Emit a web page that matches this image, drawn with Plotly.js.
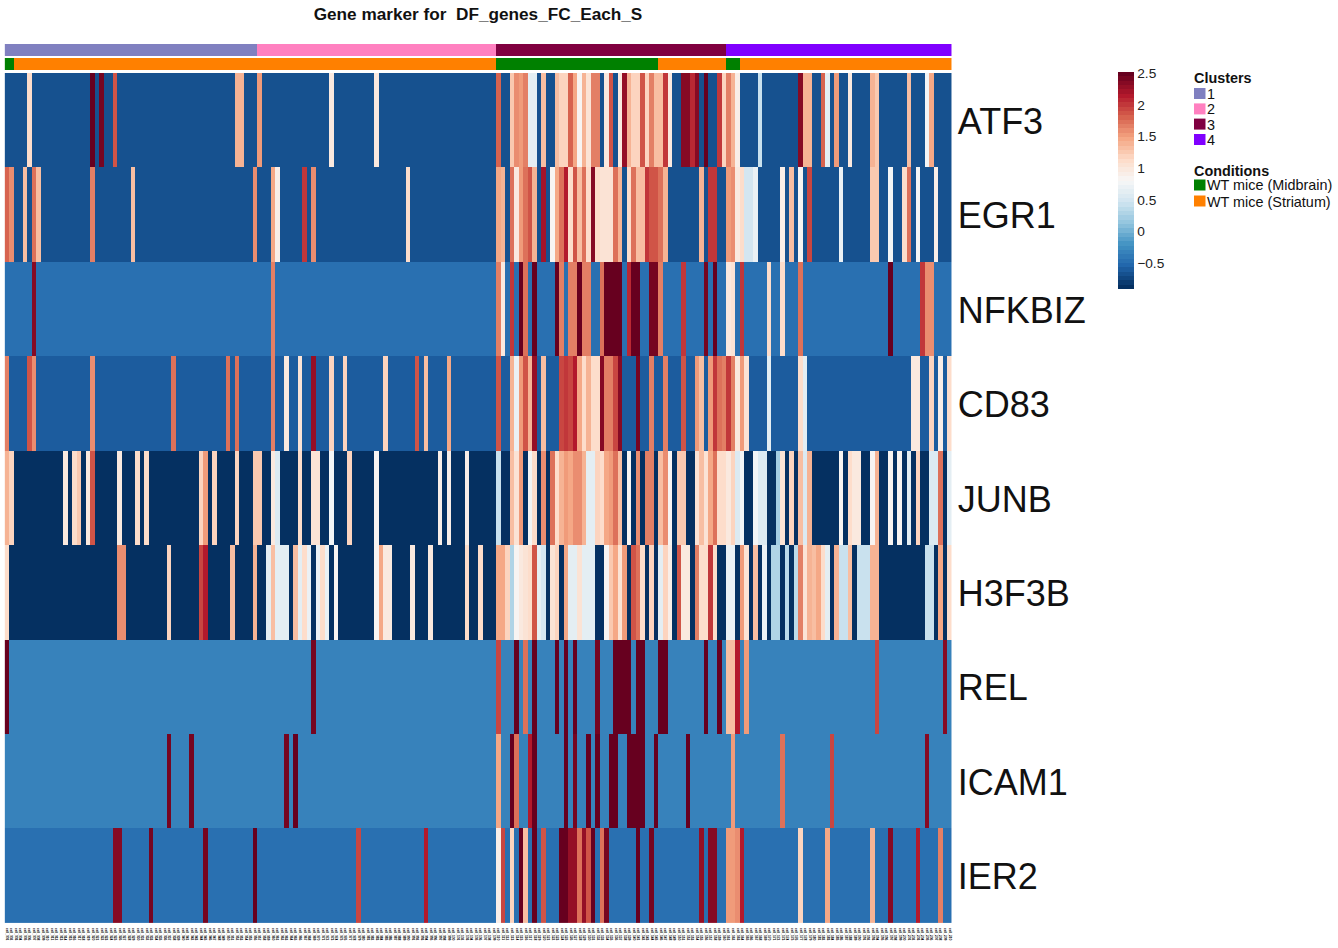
<!DOCTYPE html>
<html>
<head>
<meta charset="utf-8">
<script src="https://cdn.plot.ly/plotly-3.0.1.min.js"></script>
<style>html,body{margin:0;padding:0;background:#fff}#chart{width:1338px;height:948px}</style>
</head>
<body>
<div id="chart"></div>
<script>
const genes = ["ATF3","EGR1","NFKBIZ","CD83","JUNB","H3F3B","REL","ICAM1","IER2"];
const columnCount = 210;
const clusterLabels = ["1","2","3","4"];
const clusterColors = ["#8080C0","#FF80C0","#800040","#8000FF"];
const clusterRuns = [56,53,51,50];
const conditionLabels = ["WT mice (Midbrain)","WT mice (Striatum)"];
const conditionColors = ["#008000","#FF8000"];
const conditionRuns = [[0,2],[1,107],[0,36],[1,15],[0,3],[1,47]];
const colorTicks = [-0.5,0,0.5,1,1.5,2,2.5];
const baseLevels = {ATF3:-0.68,EGR1:-0.68,NFKBIZ:-0.45,CD83:-0.6,JUNB:-0.91,H3F3B:-0.91,REL:-0.33,ICAM1:-0.33,IER2:-0.45};

const ATF3 = {5:1.12,19:2.52,21:2.42,24:1.88,51:1.42,52:1.42,56:1.55,72:.95,82:.95,109:1.83,112:1.28,113:1.6,114:1.5,115:1.65,116:.65,117:.65,119:1.3,122:1.3,123:1.15,124:1.15,125:1.83,126:1.45,127:.85,128:1.4,129:1.05,130:1.65,131:1.65,133:1,134:1.85,136:1,137:2.28,138:1.42,139:1.2,140:1.2,141:1.85,142:1.2,143:1.65,144:1.32,145:1.32,146:2,147:.95,150:2.35,151:2.35,152:2.1,153:2.35,155:2.52,158:2,159:1.2,160:1.65,161:1.4,162:.92,167:.45,176:2.35,177:1.42,178:1.42,181:1.78,182:.65,184:1.5,187:1,192:1.38,193:1.22,200:1.3,204:.8,205:1.45};
const EGR1 = {0:1.8,1:1.58,4:1.3,6:1.7,7:1.35,19:1.68,28:1.3,55:1.57,59:1.45,60:.9,66:2,68:1.57,89:1.1,109:1.45,110:1.42,112:1.75,113:.95,114:1.55,115:1.7,116:1.85,117:1.4,119:2.2,121:.85,122:1.45,123:1.7,124:2.15,125:1.1,126:1.85,127:1.3,128:1.7,129:1.1,130:2.35,131:1.1,132:1.02,133:1.02,134:1.02,135:1.7,136:1.4,138:1.1,139:1.7,140:1.3,141:1.32,142:2,143:1.85,144:1.85,145:1.75,146:1.4,154:1.4,156:2,157:2,160:1.5,161:1.58,162:.95,163:1.1,164:.5,165:.5,166:.72,172:.9,174:1.35,176:.82,178:1.95,185:.72,192:1.28,193:1.28,196:.78,199:1.1,200:1.7,202:.78,206:.88};
const NFKBIZ = {6:2.38,59:1.65,109:1.65,110:.98,112:2,114:2.5,115:1.75,117:2.5,122:2.5,123:1.65,125:1.65,126:1.65,127:2.5,128:1.68,129:1.68,132:1.75,133:2.52,134:2.52,135:2.52,136:2.52,138:2.1,139:2.52,140:2.52,143:2.42,144:2.42,145:1.65,150:2,155:2.42,157:2.5,160:.98,161:1.02,163:2,169:1.1,172:1.1,176:1.75,196:2.5,203:2,204:1.58,205:1.58};
const CD83 = {0:1.68,5:1.85,6:1.58,19:1.58,37:1.75,49:1.75,51:1.75,59:1.68,62:1,65:1.03,68:2.25,72:1.15,75:1.2,84:1.2,91:1.85,93:1.33,98:1.43,109:1.85,112:1.38,113:.72,114:1.5,115:1.9,116:1.4,117:2.25,119:1.3,123:1.95,124:2,125:1.95,126:2.15,127:1.45,128:1.1,129:1.42,130:1.08,131:1.08,132:2.35,133:1.65,134:1.65,135:1.95,136:2.35,140:2.42,143:1.65,146:1.65,150:1.85,153:1.5,154:1.32,156:1.55,157:2.02,158:1.7,159:1.68,160:2,161:1.65,162:.95,163:1.5,164:1.02,169:.6,176:1.1,177:.65,201:1,202:1,205:1.2,207:.9,209:1.1};
const JUNB = {0:1.42,1:1.2,13:1,15:1.1,16:1.25,18:1,19:1.85,25:1,29:1.08,31:1.08,43:1.2,44:1.52,46:1.2,51:1.18,55:1.25,56:1.25,59:1,60:.58,65:1.1,68:1.05,69:1.05,72:.75,76:1.2,82:.82,96:.88,98:.9,102:.93,109:.45,112:1.3,113:1.05,114:1.55,116:.8,117:1.1,119:1.58,121:1.7,122:1.1,123:1.42,124:1.55,125:1.45,126:1.62,127:1.62,128:1.42,129:.6,130:.6,131:1.2,132:1.1,133:1.45,134:1.5,135:1.75,136:1.3,138:.82,140:1.58,142:1.68,143:1.68,145:1.3,146:1.58,147:.85,149:1.25,150:1.25,153:1.02,154:1.3,155:1.02,156:1.45,157:1.75,158:1.1,159:1.1,160:1,161:1.18,162:.55,163:.75,166:.75,167:.55,168:.55,171:.2,172:1.02,174:1.2,176:1.3,177:.58,178:1.4,185:.83,187:1.1,188:1,189:1,192:.83,193:1.4,196:.83,198:.83,200:.6,202:1.2,205:.55,206:.55,207:1.75,209:.62};
const H3F3B = {0:1.08,25:1.58,26:1.58,36:1.2,43:1.95,44:2.12,50:1.3,55:1.38,58:.65,59:1.3,60:.62,61:.62,62:.62,64:1.32,65:.65,66:1.12,67:.68,69:.72,70:1.12,71:.72,73:.82,82:.84,83:1.43,84:1,85:.95,90:1,94:1,102:1.1,105:1.1,109:1.43,110:1.48,111:1.15,112:.28,113:.85,114:.95,115:1.05,116:1.1,117:1.85,118:.6,119:.52,121:1.02,122:1.2,124:1.43,125:.65,126:.65,127:1.05,128:.65,129:.65,130:.65,133:.85,134:1.28,135:1.45,136:1.02,137:1.5,139:1.85,140:1.7,141:1.1,143:1.2,145:.65,146:1.15,147:.93,149:1.85,150:.98,151:.98,153:1.68,154:1.1,155:1.1,156:2,157:1.1,160:.72,161:.72,163:1.52,164:1.05,166:1.35,168:.72,170:.28,171:.28,173:.38,175:.33,176:1.65,177:1.02,178:1.4,179:1.32,180:1.45,181:1.1,182:.62,184:1.4,185:.4,186:.4,187:1.32,189:.4,190:.4,191:.4,192:1.38,193:1.38,204:.4,205:.4,207:1.45,209:1.1};
const REL = {0:2.5,68:2.42,109:1.95,113:2.52,115:1.75,117:2.52,122:2.5,124:2.5,126:2.5,131:2.42,135:2.52,136:2.52,137:2.52,138:2.52,140:2.5,141:2.5,145:2.52,146:2.52,155:2.52,158:2.52,160:1.3,161:1.33,162:2.12,164:1.55,193:1.95,208:2.35};
const ICAM1 = {36:2.45,41:2.45,62:2.42,64:2.5,109:1.43,112:2.52,113:1.72,116:2.12,117:2.52,124:2.5,126:2.45,129:2.52,131:2.52,134:2.5,135:2.5,138:2.5,139:2.5,140:2.5,141:2.5,144:2.5,151:2.5,161:1.55,172:1.72,183:1.95,204:2.35};
const IER2 = {24:2.38,25:2.38,32:2.45,44:2.45,55:2.5,78:1.95,93:2.12,109:.9,110:1.95,112:1.15,114:2.5,115:1.32,117:2.5,119:1.85,123:2.5,124:2.5,125:2.25,126:2.25,127:1.72,128:2.28,129:1.85,130:2.5,132:1.75,133:2.42,140:2.5,143:2.45,154:2.25,156:2.38,157:2.38,160:1.5,161:1.5,162:1.6,163:2.12,176:1.2,182:1.45,192:1.38,196:2.35,202:2.15,207:1.68};
const geneCells = {ATF3,EGR1,NFKBIZ,CD83,JUNB,H3F3B,REL,ICAM1,IER2};

const W = 1338, H = 948;
const px = v => v / W, py = v => 1 - v / H;
const anchors = ["#053061","#2166AC","#4393C3","#92C5DE","#D1E5F0","#F7F7F7","#FDDBC7","#F4A582","#D6604D","#B2182B","#67001F"];
function mix(t){
  const p = t * (anchors.length - 1), i = Math.min(Math.floor(p), anchors.length - 2), f = p - i;
  const ch = (h, k) => parseInt(h.substr(1 + 2 * k, 2), 16);
  return "rgb(" + [0,1,2].map(k => Math.round(ch(anchors[i],k) + (ch(anchors[i+1],k) - ch(anchors[i],k)) * f)).join(",") + ")";
}
const bands = 50, colorscale = [];
for (let i = 0; i < bands; i++) {
  const c = mix(i / (bands - 1));
  colorscale.push([i / bands, c], [(i + 1) / bands, c]);
}
const columnIds = Array.from({length: columnCount}, (_, i) => i);
const columnNames = columnIds.map(i => "cell_" + String(i + 1).padStart(3, "0"));
const z = genes.map(g => columnIds.map(i => geneCells[g][i] !== undefined ? geneCells[g][i] : baseLevels[g]));
const clusterRow = [], conditionRow = [];
clusterRuns.forEach((n, k) => { for (let i = 0; i < n; i++) clusterRow.push(k); });
conditionRuns.forEach(([k, n]) => { for (let i = 0; i < n; i++) conditionRow.push(k); });
const stepped = colors => {
  const s = [];
  colors.forEach((c, i) => s.push([i / colors.length, c], [(i + 1) / colors.length, c]));
  return s;
};
const traces = [
  {type:"heatmap", x:columnIds, y:genes, z:z, xaxis:"x", yaxis:"y", colorscale:colorscale, zmin:-0.91, zmax:2.52,
   hoverinfo:"x+y+z",
   colorbar:{xref:"paper", yref:"paper", x:px(1118), xanchor:"left", y:py(72), yanchor:"top", thickness:16, thicknessmode:"pixels",
     len:217, lenmode:"pixels", outlinewidth:0, borderwidth:0, xpad:0, ypad:0, tickmode:"array", tickvals:colorTicks, ticks:"", ticklen:0,
     tickfont:{family:"Liberation Sans", size:13.7, color:"#222"}}},
  {type:"heatmap", x:columnIds, y:["Clusters"], z:[clusterRow], xaxis:"x", yaxis:"y2", colorscale:stepped(clusterColors), zmin:-0.5, zmax:3.5, showscale:false},
  {type:"heatmap", x:columnIds, y:["Conditions"], z:[conditionRow], xaxis:"x", yaxis:"y3", colorscale:stepped(conditionColors), zmin:-0.5, zmax:1.5, showscale:false}
];
const textBase = {xref:"paper", yref:"paper", showarrow:false, xanchor:"left", yanchor:"middle", font:{family:"Liberation Sans", size:14.4, color:"#111"}};
const annotations = [], shapes = [];
const legendTitle = (t, y) => annotations.push({...textBase, text:"<b>"+t+"</b>", x:px(1192), y:py(y)});
const legendItem = (t, c, top, bottom) => {
  shapes.push({type:"rect", xref:"paper", yref:"paper", x0:px(1194), x1:px(1205.5), y0:py(bottom), y1:py(top), fillcolor:c, line:{width:0}});
  annotations.push({...textBase, text:t, x:px(1205), y:py((top + bottom) / 2 + 0.5)});
};
legendTitle("Clusters", 78);
const clusterTops = [88,103.4,118.6,134];
clusterLabels.forEach((t, i) => legendItem(t, clusterColors[i], clusterTops[i], clusterTops[i] + 11));
legendTitle("Conditions", 171);
const conditionTops = [179.5,195.5];
conditionLabels.forEach((t, i) => legendItem(t, conditionColors[i], conditionTops[i], conditionTops[i] + 11));

const layout = {
  width:W, height:H, paper_bgcolor:"#fff", plot_bgcolor:"#fff",
  margin:{l:0,r:0,t:0,b:0,autoexpand:false},
  title:{text:"<b>Gene marker for \u00a0DF_genes_FC_Each_S</b>", xref:"paper", yref:"paper", x:px(478), xanchor:"center", y:py(14), yanchor:"middle",
    font:{family:"Liberation Sans", size:17.2, color:"#111"}},
  xaxis:{domain:[px(4.6),px(951.8)], range:[-0.5,209.5], tickmode:"array", tickvals:columnIds, ticktext:columnNames, tickangle:90, ticks:"", showgrid:false, zeroline:false,
    showline:false, ticklabelstandoff:4, tickfont:{family:"Liberation Sans", size:3.2, color:"#000", weight:700}, anchor:"y"},
  yaxis:{domain:[py(922.95),py(72.9)], type:"category", autorange:"reversed", side:"right", anchor:"x", ticks:"", ticklen:0, showgrid:false, zeroline:false, showline:false,
    ticklabelstandoff:5, ticklabelshift:-1, tickfont:{family:"Liberation Sans", size:36, color:"#111"}},
  yaxis2:{domain:[py(56),py(44)], anchor:"x", visible:false, showticklabels:false},
  yaxis3:{domain:[py(70),py(58)], anchor:"x", visible:false, showticklabels:false},
  annotations:annotations, shapes:shapes, showlegend:false
};
Plotly.newPlot("chart", traces, layout, {displayModeBar:false, responsive:false});
</script>
</body>
</html>
